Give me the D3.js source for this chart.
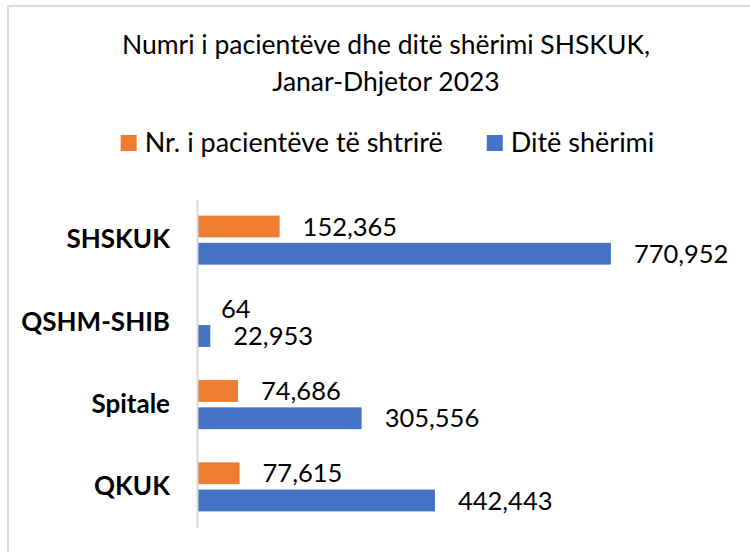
<!DOCTYPE html>
<html>
<head>
<meta charset="utf-8">
<script src="https://cdn.jsdelivr.net/npm/d3@7"></script>
<style>
  html, body { margin: 0; padding: 0; background: #fff; }
  svg text { font-family: Lato, "Open Sans", sans-serif; fill: #000; }
</style>
</head>
<body>
<svg id="chart" width="750" height="552"></svg>
<script>
// data
const categories = ['SHSKUK', 'QSHM-SHIB', 'Spitale', 'QKUK'];
const seriesNames = ['Nr. i pacientëve të shtrirë', 'Ditë shërimi'];
const patients = [152365, 64, 74686, 77615];
const treatmentDays = [770952, 22953, 305556, 442443];
const seriesColors = ['#ED7D31', '#4472C4'];
const titleLines = ['Numri i pacientëve dhe ditë shërimi SHSKUK,', 'Janar-Dhjetor 2023'];

const rows = categories.map((c, i) => ({cat: c, values: [patients[i], treatmentDays[i]]}));

const svg = d3.select('#chart');
const fmt = d3.format(',');

// outer frame (right/bottom edge run off the picture)
svg.append('rect')
    .attr('x', 8).attr('y', 6)
    .attr('width', 800).attr('height', 600)
    .attr('fill', 'none')
    .attr('stroke', '#d9d9d9')
    .attr('stroke-width', 2);

// title
const cx = 386;
svg.selectAll('.title').data(titleLines).enter().append('text')
    .attr('class', 'title')
    .attr('x', cx)
    .attr('y', (d, i) => 54 + i * 37)
    .attr('text-anchor', 'middle')
    .attr('font-size', 26.5)
    .text(d => d);

// legend
const legend = svg.append('g');
let lx = 0;
seriesNames.forEach((name, i) => {
    const g = legend.append('g').attr('transform', `translate(${lx},0)`);
    g.append('rect').attr('x', 0).attr('y', 135).attr('width', 16).attr('height', 16)
        .attr('fill', seriesColors[i]);
    const t = g.append('text').attr('x', 24).attr('y', 152).attr('font-size', 27).text(name);
    lx += 24 + t.node().getComputedTextLength() + 44;
});
const legendW = lx - 44;
legend.attr('transform', `translate(${387.5 - legendW / 2},0)`);

// scales
const x = d3.scaleLinear().domain([0, 900000]).range([198, 680]);
const y0 = d3.scaleBand().domain(categories).range([199, 528])
    .paddingInner(0.404).paddingOuter(0.202);
const y1 = d3.scaleBand().domain([0, 1]).range([0, y0.bandwidth()]).paddingInner(0.2);

const groups = svg.selectAll('.grp').data(rows).enter().append('g')
    .attr('class', 'grp')
    .attr('transform', d => `translate(0,${y0(d.cat)})`);

groups.selectAll('rect').data(d => d.values).enter().append('rect')
    .attr('x', x(0))
    .attr('y', (d, i) => y1(i))
    .attr('width', d => x(d) - x(0))
    .attr('height', y1.bandwidth())
    .attr('fill', (d, i) => seriesColors[i]);

groups.selectAll('.val').data(d => d.values).enter().append('text')
    .attr('class', 'val')
    .attr('x', d => x(d) + 23)
    .attr('y', (d, i) => y1(i) + y1.bandwidth() / 2)
    .attr('dy', '0.36em')
    .attr('font-size', 25.5)
    .text(d => fmt(d));

// category axis
const yAxis = svg.append('g').attr('transform', `translate(${x(0) - 1},0)`)
    .call(d3.axisLeft(y0).tickSize(0).tickPadding(27));
yAxis.select('.domain').attr('stroke', '#d9d9d9').attr('stroke-width', 2);
yAxis.selectAll('text')
    .attr('font-size', 26)
    .attr('font-weight', 'bold')
    .attr('fill', '#000')
    .style('font-family', 'Lato, sans-serif');
</script>
</body>
</html>
